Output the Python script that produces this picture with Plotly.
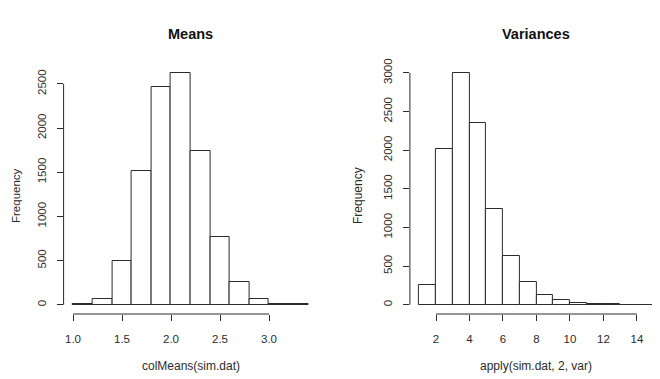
import plotly.graph_objects as go

# ---- data ----
mean_edges = [1.0, 1.2, 1.4, 1.6, 1.8, 2.0, 2.2, 2.4, 2.6, 2.8, 3.0, 3.2, 3.4]
mean_counts = [5, 70, 500, 1510, 2465, 2620, 1745, 765, 255, 70, 12, 4]
mean_xticks = [1.0, 1.5, 2.0, 2.5, 3.0]
mean_xticklabels = ["1.0", "1.5", "2.0", "2.5", "3.0"]
mean_yticks = [0, 500, 1000, 1500, 2000, 2500]

var_edges = list(range(1, 16))
var_counts = [250, 2020, 2995, 2350, 1240, 630, 290, 120, 60, 25, 12, 5, 2, 1]
var_xticks = [2, 4, 6, 8, 10, 12, 14]
var_yticks = [0, 500, 1000, 1500, 2000, 2500, 3000]

# page offset of the plot div (default body margin)
OFF = 8
W, H = 660 - OFF, 379 - OFF
INK = "#2b2b2b"
FONT = "Liberation Sans, Arial, Helvetica, sans-serif"

def centers(e):
    return [(a + b) / 2 for a, b in zip(e[:-1], e[1:])]

def widths(e):
    return [b - a for a, b in zip(e[:-1], e[1:])]

fig = go.Figure()
fig.add_trace(go.Bar(x=centers(mean_edges), y=mean_counts, width=widths(mean_edges),
                     marker=dict(color="white", line=dict(color=INK, width=1)),
                     xaxis="x", yaxis="y", showlegend=False, hoverinfo="x+y"))
fig.add_trace(go.Bar(x=centers(var_edges), y=var_counts, width=widths(var_edges),
                     marker=dict(color="white", line=dict(color=INK, width=1)),
                     xaxis="x2", yaxis="y2", showlegend=False, hoverinfo="x+y"))

def ext(lo, hi):
    d = (hi - lo) * 0.04
    return [lo - d, hi + d]

# panel pixel geometry (page coords minus offset)
L1, R1 = 63.6 - OFF, 317.6 - OFF
L2, R2 = 409.9 - OFF, 660.0 - OFF
top, bot = 64 - OFF, 314 - OFF

xr1 = ext(mean_edges[0], mean_edges[-1])
yr1 = ext(0, max(mean_counts))
xr2_full = ext(var_edges[0], var_edges[-1])
scale2 = (663.0 - OFF - L2) / (xr2_full[1] - xr2_full[0])
xr2 = [xr2_full[0], xr2_full[0] + (R2 - L2) / scale2]
yr2 = ext(0, max(var_counts))

tickfont = dict(family=FONT, size=11.5, color=INK)
common_x = dict(showgrid=False, zeroline=False, showline=False, ticks="outside",
                ticklen=6, tickwidth=1, tickcolor=INK, tickfont=tickfont, automargin=False,
                ticklabelstandoff=8)
common_y = dict(showgrid=False, zeroline=False, showline=False, ticks="outside",
                ticklen=6, tickwidth=1, tickcolor=INK, tickfont=tickfont, tickangle=-90,
                automargin=False, ticklabelstandoff=6)

fig.update_layout(
    width=W, height=H,
    margin=dict(l=0, r=0, t=top, b=H - bot, autoexpand=False),
    plot_bgcolor="white", paper_bgcolor="white",
    bargap=0,
    xaxis=dict(domain=[L1 / W, R1 / W], range=xr1, tickvals=mean_xticks,
               ticktext=mean_xticklabels, anchor="y", **common_x),
    yaxis=dict(domain=[0, 1], range=yr1, tickvals=mean_yticks, anchor="x", **common_y),
    xaxis2=dict(domain=[L2 / W, R2 / W], range=xr2, tickvals=var_xticks, anchor="y2", **common_x),
    yaxis2=dict(domain=[0, 1], range=yr2, tickvals=var_yticks, anchor="x2", **common_y),
)

# R-style axis lines spanning first to last tick
line = dict(color=INK, width=1)
fig.add_shape(type="line", xref="x", yref="y domain", x0=mean_xticks[0], x1=mean_xticks[-1], y0=0, y1=0, line=line)
fig.add_shape(type="line", xref="x domain", yref="y", x0=0, x1=0, y0=mean_yticks[0], y1=mean_yticks[-1], line=line)
fig.add_shape(type="line", xref="x2", yref="y2 domain", x0=var_xticks[0], x1=var_xticks[-1], y0=0, y1=0, line=line)
fig.add_shape(type="line", xref="x2 domain", yref="y2", x0=0, x1=0, y0=var_yticks[0], y1=var_yticks[-1], line=line)

def ann(text, x, y, size, bold=False, angle=0):
    # x, y are page pixel positions
    fig.add_annotation(text=("<b>%s</b>" % text) if bold else text,
                       x=(x - OFF) / W, y=(bot - (y - OFF)) / (bot - top),
                       xref="paper", yref="paper",
                       showarrow=False, textangle=angle,
                       font=dict(family=FONT, size=size, color="#111" if bold else INK),
                       xanchor="center", yanchor="middle")

ann("Means", 190.6, 34, 14.5, bold=True)
ann("Variances", 536, 34, 14.5, bold=True)
ann("colMeans(sim.dat)", 190.6, 366, 12)
ann("apply(sim.dat, 2, var)", 536, 366, 12)
ann("Frequency", 16, 196, 11.5, angle=-90)
ann("Frequency", 358, 196, 12, angle=-90)

fig.write_html("out.html")
